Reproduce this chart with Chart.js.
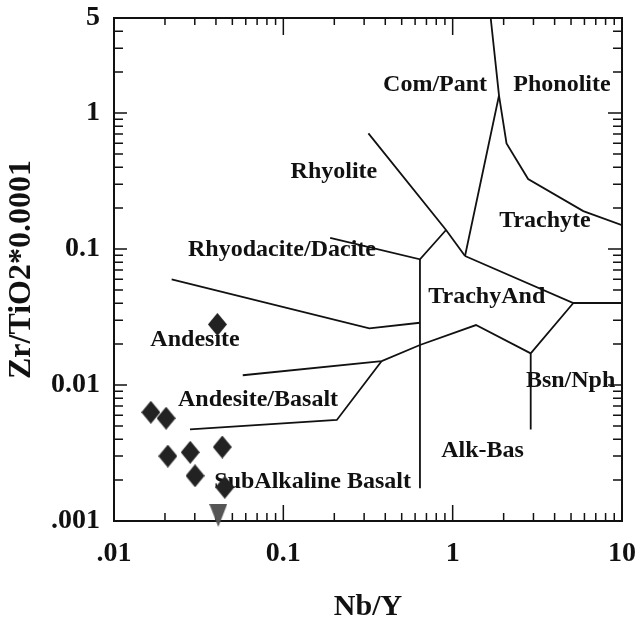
<!DOCTYPE html>
<html>
<head>
<meta charset="utf-8">
<script src="https://cdn.jsdelivr.net/npm/chart.js@4.4.1/dist/chart.umd.min.js"></script>
<style>
  html, body { margin: 0; padding: 0; background: #fff; }
  #wfChart { display: block; }
</style>
</head>
<body>
<canvas id="wfChart" width="639" height="628"></canvas>
<script>
// Zr/TiO2 vs Nb/Y discrimination diagram (Winchester & Floyd fields)

const X_TICKS = [0.01, 0.1, 1, 10];
const X_TICK_LABELS = ['.01', '0.1', '1', '10'];
const Y_TICKS = [0.001, 0.01, 0.1, 1, 5];
const Y_TICK_LABELS = ['.001', '0.01', '0.1', '1', '5'];

// samples
const sampleNbY  = [0.0165, 0.0203, 0.0208, 0.0282, 0.0436, 0.0301, 0.0451, 0.0408];
const sampleZrTi = [0.0063, 0.0057, 0.0030, 0.0032, 0.0035, 0.00215, 0.00177, 0.0279];
// sample with Zr/TiO2 below the plotted range
const lowNbY  = [0.0413];
const lowZrTi = [0.0011];

// field boundaries, [Nb/Y, Zr/TiO2*0.0001]
const rhyodaciteAndesite = [[0.0219, 0.0599], [0.322, 0.0261], [0.641, 0.0287]];
const daciteRhyolite     = [[0.189, 0.121], [0.641, 0.084], [0.914, 0.138]];
const rhyoliteComPant    = [[0.318, 0.709], [0.914, 0.138], [1.183, 0.0888]];
const comPantTrachyte    = [[1.183, 0.0888], [1.878, 1.345], [1.677, 5]];
const phonoliteTrachyte  = [[1.878, 1.345], [2.08, 0.597], [2.79, 0.327], [5.91, 0.190], [10, 0.150]];
const trachyteTrachyAnd  = [[1.183, 0.0888], [5.16, 0.0401], [10, 0.0401]];
const trachyAndBsnNph    = [[5.16, 0.0401], [2.89, 0.0171], [2.89, 0.0047]];
const andesiteAndBasalt  = [[0.0576, 0.0118], [0.381, 0.0150], [0.641, 0.0197], [1.373, 0.0276], [2.89, 0.0171]];
const andBasaltSubAlk    = [[0.0281, 0.00472], [0.207, 0.00553], [0.381, 0.0150]];
const subAlkAlkaline     = [[0.641, 0.084], [0.641, 0.00174]];

const boundaryLines = [
  rhyodaciteAndesite, daciteRhyolite, rhyoliteComPant, comPantTrachyte, phonoliteTrachyte,
  trachyteTrachyAnd, trachyAndBsnNph, andesiteAndBasalt, andBasaltSubAlk, subAlkAlkaline
];

// field names and where they sit
const fieldNames = ['Com/Pant', 'Phonolite', 'Rhyolite', 'Trachyte', 'Rhyodacite/Dacite', 'TrachyAnd',
                    'Andesite', 'Bsn/Nph', 'Andesite/Basalt', 'Alk-Bas', 'SubAlkaline Basalt'];
const fieldX = [0.787, 4.42, 0.199, 3.51, 0.0982, 1.59, 0.0301, 4.97, 0.0709, 1.50, 0.149];
const fieldY = [1.62, 1.62, 0.368, 0.161, 0.0983, 0.0444, 0.0214, 0.0107, 0.00776, 0.00327, 0.00194];

const INK = '#111';
const SERIF = '"Liberation Serif", "Times New Roman", serif';

function makeDiamond(w, h, color) {
  const c = document.createElement('canvas');
  c.width = w; c.height = h;
  const g = c.getContext('2d');
  g.fillStyle = color;
  g.beginPath();
  g.moveTo(w / 2, 0);
  g.lineTo(w, h / 2);
  g.lineTo(w / 2, h);
  g.lineTo(0, h / 2);
  g.closePath();
  g.fill();
  return c;
}

function makeDownTriangle(w, h, color) {
  const c = document.createElement('canvas');
  c.width = w; c.height = h;
  const g = c.getContext('2d');
  g.fillStyle = color;
  g.beginPath();
  g.moveTo(0, 0);
  g.lineTo(w, 0);
  g.lineTo(w / 2, h);
  g.closePath();
  g.fill();
  return c;
}

// minor tick positions 2..9 inside each decade
function minorTicks(fromExp, toExp, max) {
  const out = [];
  for (let e = fromExp; e <= toExp; e++) {
    for (let m = 2; m <= 9; m++) {
      const v = m * Math.pow(10, e);
      if (v < max) out.push(v);
    }
  }
  return out;
}

function setTicks(majors, minors) {
  return function (scale) {
    scale.ticks = majors.map(v => ({ value: v, major: true }))
      .concat(minors.map(v => ({ value: v, major: false })))
      .sort((a, b) => a.value - b.value);
  };
}

const xMinor = minorTicks(-2, 0, 10);
const yMinor = minorTicks(-3, 0, 5);

// frame, inward tick marks and field names
const framePlugin = {
  id: 'framePlugin',
  beforeDatasetsDraw(chart) {
    const { ctx, chartArea: a, scales: { x, y } } = chart;
    ctx.save();
    ctx.strokeStyle = INK;
    ctx.lineWidth = 2;
    ctx.strokeRect(a.left, a.top, a.right - a.left, a.bottom - a.top);

    ctx.lineWidth = 1.5;
    ctx.beginPath();
    x.ticks.forEach(t => {
      const px = x.getPixelForValue(t.value);
      ctx.moveTo(px, a.bottom);
      ctx.lineTo(px, a.bottom - (t.major ? 16 : 8));
      ctx.moveTo(px, a.top);
      ctx.lineTo(px, a.top + (t.major ? 17 : 7));
    });
    y.ticks.forEach(t => {
      const py = y.getPixelForValue(t.value);
      ctx.moveTo(a.left, py);
      ctx.lineTo(a.left + (t.major ? 13 : 9), py);
      ctx.moveTo(a.right, py);
      ctx.lineTo(a.right - (t.major ? 14 : 9), py);
    });
    ctx.stroke();

    ctx.fillStyle = INK;
    ctx.font = 'bold 24px ' + SERIF;
    ctx.textAlign = 'center';
    ctx.textBaseline = 'middle';
    fieldNames.forEach((name, i) => {
      ctx.fillText(name, x.getPixelForValue(fieldX[i]), y.getPixelForValue(fieldY[i]));
    });
    ctx.restore();
  }
};

const datasets = [
  {
    label: 'Samples',
    data: sampleNbY.map((v, i) => ({ x: v, y: sampleZrTi[i] })),
    pointStyle: makeDiamond(19, 23, '#222'),
    pointRadius: 10,
    showLine: false,
    clip: false
  },
  {
    label: 'Below range',
    data: lowNbY.map((v, i) => ({ x: v, y: lowZrTi[i] })),
    pointStyle: makeDownTriangle(18, 23, '#555'),
    pointRadius: 10,
    showLine: false,
    clip: false
  }
].concat(boundaryLines.map((line, i) => ({
  label: 'boundary ' + (i + 1),
  data: line.map(p => ({ x: p[0], y: p[1] })),
  showLine: true,
  borderColor: INK,
  borderWidth: 1.8,
  pointRadius: 0,
  fill: false,
  tension: 0
})));

new Chart(document.getElementById('wfChart'), {
  type: 'scatter',
  data: { datasets },
  options: {
    responsive: false,
    animation: false,
    devicePixelRatio: 1,
    layout: { autoPadding: false, padding: { left: 0, right: 17, top: 18, bottom: 0 } },
    plugins: { legend: { display: false }, tooltip: { enabled: false } },
    scales: {
      x: {
        type: 'logarithmic',
        position: 'bottom',
        min: 0.01,
        max: 10,
        afterBuildTicks: setTicks(X_TICKS, xMinor),
        afterFit(scale) {
          scale.height = 107;
          scale.paddingLeft = 0;
          scale.paddingRight = 0;
        },
        grid: { display: false, drawTicks: false },
        border: { display: false },
        ticks: {
          autoSkip: false,
          maxRotation: 0,
          padding: 16,
          color: INK,
          font: { family: SERIF, size: 28, weight: 'bold' },
          callback(value) {
            const i = X_TICKS.indexOf(value);
            return i >= 0 ? X_TICK_LABELS[i] : '';
          }
        },
        title: {
          display: true,
          text: 'Nb/Y',
          color: INK,
          font: { family: SERIF, size: 30, weight: 'bold' },
          padding: { top: 0, bottom: 3 }
        }
      },
      y: {
        type: 'logarithmic',
        position: 'left',
        min: 0.001,
        max: 5,
        afterBuildTicks: setTicks(Y_TICKS, yMinor),
        afterFit(scale) {
          scale.width = 114;
          scale.paddingTop = 0;
          scale.paddingBottom = 0;
        },
        grid: { display: false, drawTicks: false },
        border: { display: false },
        ticks: {
          autoSkip: false,
          padding: 14,
          color: INK,
          font: { family: SERIF, size: 28, weight: 'bold' },
          callback(value) {
            const i = Y_TICKS.indexOf(value);
            return i >= 0 ? Y_TICK_LABELS[i] : '';
          }
        },
        title: {
          display: true,
          text: 'Zr/TiO2*0.0001',
          color: INK,
          font: { family: SERIF, size: 32, weight: 'bold' },
          padding: { top: 3, bottom: 0 }
        }
      }
    }
  },
  plugins: [framePlugin]
});
</script>
</body>
</html>
